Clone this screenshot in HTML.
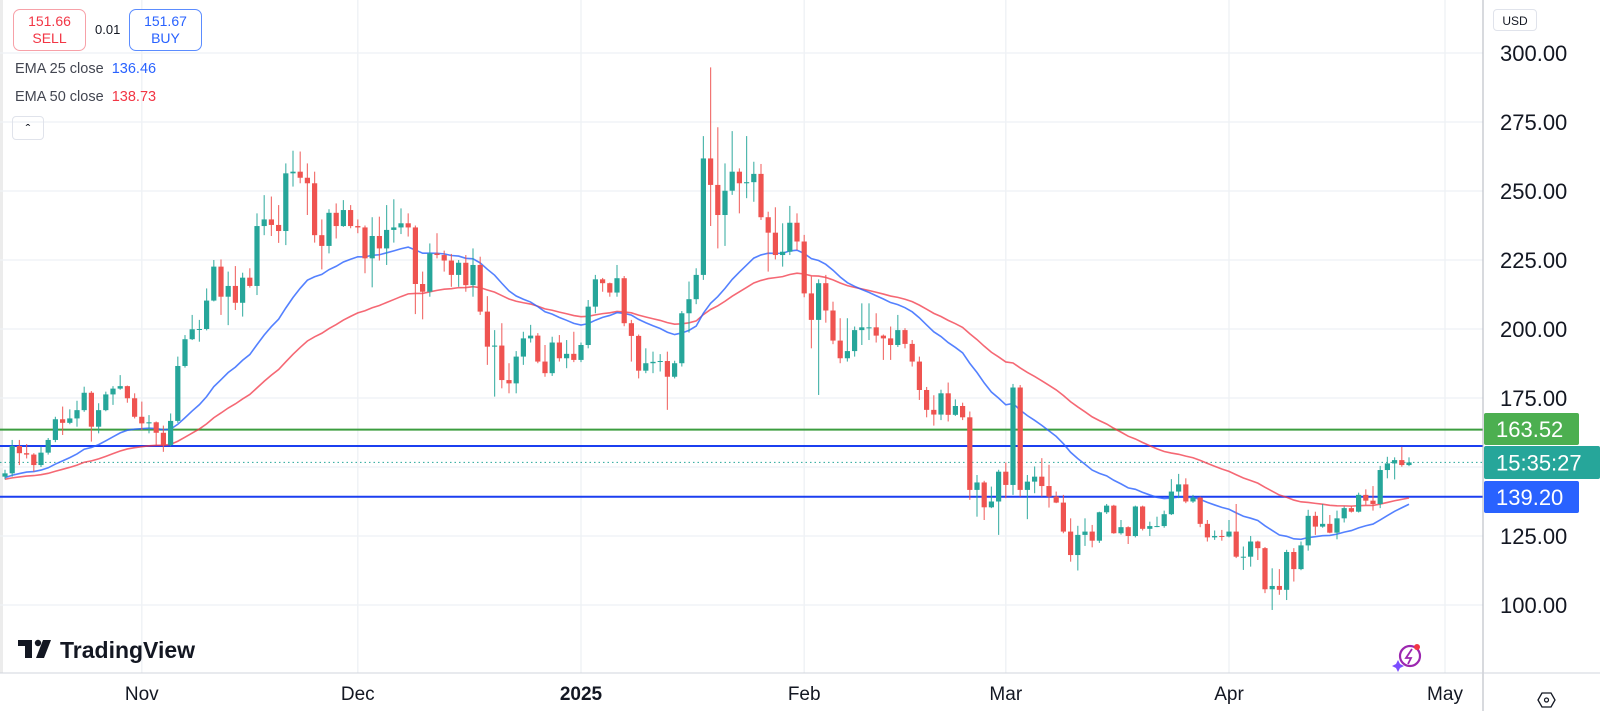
<!DOCTYPE html>
<html><head><meta charset="utf-8"><style>
html,body{margin:0;padding:0;background:#fff;}
body{width:1600px;height:711px;overflow:hidden;position:relative;font-family:"Liberation Sans",sans-serif;}
svg{position:absolute;left:0;top:0;}
.box{position:absolute;border-radius:7px;background:#fff;text-align:center;font-size:14px;line-height:17px;box-sizing:border-box;}
.leg{position:absolute;left:15px;font-size:14.5px;color:#434651;}
</style></head><body>
<svg id="chart" width="1600" height="711"></svg>

<div class="box" style="left:13px;top:9px;width:73px;height:42px;border:1px solid #f7a1a8;color:#f23645;padding-top:3px">151.66<br>SELL</div>
<div style="position:absolute;left:95px;top:22px;font-size:13px;color:#131722">0.01</div>
<div class="box" style="left:129px;top:9px;width:73px;height:42px;border:1px solid #5b8cff;color:#2962ff;padding-top:3px">151.67<br>BUY</div>
<div class="leg" style="top:61px">EMA 25 close&nbsp; <span style="color:#2962ff">136.46</span></div>
<div class="leg" style="top:89px">EMA 50 close&nbsp; <span style="color:#f23645">138.73</span></div>
<div style="position:absolute;left:12px;top:116px;width:32px;height:24px;border:1px solid #e0e3eb;border-radius:4px;box-sizing:border-box;text-align:center;font-size:14px;line-height:24px;color:#131722">&#710;</div>
<div style="position:absolute;left:1493px;top:9px;width:44px;height:22px;border:1px solid #e0e3eb;border-radius:4px;font-size:12px;line-height:22px;text-align:center;color:#131722;box-sizing:border-box">USD</div>

<script>
const closes=[147.7,157.6,155.0,154.5,150.7,155.2,159.8,167.3,166.0,167.6,170.6,176.9,164.6,170.6,176.3,178.4,179.3,174.9,168.2,165.8,166.2,162.4,158.0,166.7,186.6,196.3,199.9,200.0,210.3,222.6,211.7,215.6,209.5,218.6,215.6,237.3,239.7,237.7,235.5,256.4,257.0,254.8,252.8,234.0,230.1,242.1,237.3,243.1,237.3,236.8,225.6,233.7,229.2,235.9,236.8,238.3,236.8,216.3,213.5,227.4,226.8,224.8,219.6,224.0,215.9,223.2,206.3,193.6,194.0,181.5,180.3,190.0,196.6,197.6,188.2,184.0,195.1,189.4,191.0,188.8,194.2,208.1,218.0,216.6,213.2,218.4,202.1,197.5,184.9,187.6,188.1,188.4,182.7,187.6,205.7,210.8,219.6,261.8,252.2,241.3,250.1,257.0,252.8,253.2,256.2,240.5,234.9,226.8,228.0,238.5,231.7,212.9,203.3,216.6,206.7,195.8,189.4,192.0,199.6,200.6,200.6,197.6,196.6,194.2,199.6,194.6,188.2,177.9,170.7,169.0,176.7,168.9,172.1,168.0,141.7,144.4,135.4,137.5,148.3,143.5,178.8,141.7,144.7,146.5,143.1,139.3,137.1,126.6,118.1,125.4,126.6,123.3,133.6,136.0,126.0,128.2,125.0,135.7,127.6,128.6,128.6,132.9,141.1,143.7,137.5,138.9,129.4,124.5,125.0,124.8,126.6,117.5,117.5,123.0,120.6,105.7,106.9,105.5,119.2,113.0,121.6,132.3,128.4,129.4,126.2,131.4,135.1,133.8,139.9,137.8,136.6,148.9,151.3,152.5,150.7,151.66];
const highs=[149,159.8,159.8,158.3,155,157.4,160.5,168.2,171.9,170.9,174,179.1,177.5,173.1,177.3,179.3,183.3,179.5,176.7,173.7,168.8,166.5,165,169.4,190,197.8,205.1,203.3,214.7,225,225.2,220.8,222.8,220.4,222,241.9,248.5,248,244.9,260,264.6,264.3,260,257,239.7,243.4,245.5,246.7,244.9,239.7,237.5,240.5,240.7,244.9,247,243.7,241.9,237.5,220.8,231,234.7,228.4,227.2,225,226.8,229.2,226.2,211.9,199.6,202.1,187.6,192,199,201.5,198.5,194.2,197.2,197.8,196,199,195.1,210.5,219.6,218.5,216.8,223.2,219.2,203.3,198,193,191.8,190.9,191.8,188.5,206.5,217.2,222,269.9,294.8,273.1,260,271.7,258.2,269.9,260.6,259.8,242.5,244.1,238.3,244.6,241.9,234.1,219,218,219.6,209.9,203.9,203.9,200.9,209.3,209.3,205.7,198,200.9,205.1,200.3,196,190,179,176,178,180.6,174.5,173.3,170.1,147.1,145,142.9,149,151.6,180.1,179.7,147.1,150.2,153.2,150.8,141.1,139.9,131.4,128.7,131.4,129,133.8,136.6,136.3,130.8,128.5,136,136,130.2,132,134.2,145.6,147.5,145.9,139.9,139.3,130.8,127,127.2,130.8,136.6,121.2,125,123.3,121,113.3,113,120,120.6,123,134.5,133.8,136.6,132.6,134.2,135.7,135.9,140.7,141.9,143.1,150.4,153.7,153.5,157.3,153.5];
const lows=[145.5,146.5,150.7,153.1,148.3,150,154.5,159,161.6,165.5,164.6,170,159.2,162.2,170.2,172.5,178,173.3,167.6,163.4,162.2,158,155.5,157.5,166,186,196,195.4,199.5,210,205.1,201.4,206.9,204.5,215,212.3,234,233.7,231.2,230.4,251.6,252.8,241.3,231.3,221.6,227.4,232.8,237,236.5,234.7,220.2,215.1,224.8,223.2,231.3,234.4,233.5,205.4,203.5,211.7,225.6,220.8,215.3,215.3,213.5,211.7,205.1,187,175.5,178.5,176.7,176.7,187,195.1,187.6,182.7,183,188.2,185.8,188,188,193,205.7,213.5,211.7,211.7,201,188.2,182.1,184,184,184.6,170.7,182.1,186.4,198.7,209,217.8,237.3,229.2,230.1,248.6,241.9,247.4,246.1,239.5,220.8,225.2,222.6,226.8,228.6,211.5,193,176.1,202.3,194.5,187.6,188.2,190,194.2,196,195.1,188.8,188.8,193.5,193,186.4,174.3,168,165,167,166.5,168.5,167,138.1,132,130.8,135.1,125.4,138.7,139.9,139.3,131.1,140.5,139.3,135.3,136.9,126,115.7,112.5,121.4,120.9,122.5,133,125.8,125.5,122.1,124.5,127,125,128.2,128,132.6,138.7,136.9,137,128.2,123,123.6,123.3,124.5,117,112.7,113.9,116.3,104.3,98.2,103.7,101.8,108.5,112.6,119.7,125.4,128,126,123.8,129.9,133.5,133.5,136.3,134.2,135.1,145.9,145.5,150.1,150.3];
const firstOpen=146.5;
const ema25Seed=146.0, ema50Seed=145.5;
const priceTicks=[300,275,250,225,200,175,125,100];
const gridPrices=[300,275,250,225,200,175,150,125,100];
const monthLabels=["Nov","Dec","2025","Feb","Mar","Apr","May"];
const monthIdx=[19,49,80,111,139,170,200];
const levelGreen=163.52, levelBlueHi=157.6, levelBlueLo=139.2, lastPrice=151.66;

const NS="http://www.w3.org/2000/svg";
const svg=document.getElementById('chart');
const X0=5, DX=7.2, PR=1483, PB=673;
function xOf(i){return X0+DX*i;}
function yOf(p){return 53+(300-p)*2.76;}
function mk(tag,attrs,parent){const e=document.createElementNS(NS,tag);for(const k in attrs)e.setAttribute(k,attrs[k]);(parent||svg).appendChild(e);return e;}

// clip
const defs=mk('defs',{});
const cp=mk('clipPath',{id:'plotclip'},defs);
mk('rect',{x:0,y:0,width:PR,height:PB},cp);
mk('rect',{x:0,y:0,width:3,height:PB,fill:'#ececec'});

const grid=mk('g',{});


gridPrices.forEach(p=>{const l=mk('line',{x1:0,x2:PR,y1:yOf(p),y2:yOf(p),stroke:'#eef1f5','stroke-width':1.3},grid);

});
monthIdx.forEach(i=>{const l=mk('line',{x1:xOf(i),x2:xOf(i),y1:0,y2:PB,stroke:'#eef1f5','stroke-width':1.3},grid);

});

const plot=mk('g',{'clip-path':'url(#plotclip)'});
// horizontal levels
[[levelGreen,'#3c9d3f'],[levelBlueHi,'#1b3ff0'],[levelBlueLo,'#1b3ff0']].forEach(([p,c])=>{
 const l=mk('line',{x1:0,x2:PR,y1:yOf(p),y2:yOf(p),stroke:c,'stroke-width':2},plot);
 
 });
const dl=mk('line',{x1:0,x2:PR,y1:yOf(lastPrice),y2:yOf(lastPrice),stroke:'#26a69a','stroke-width':1,'stroke-dasharray':'1.5 3'},plot);



// EMAs
function ema(n,seed){const k=2/(n+1);let v=seed;return closes.map(c=>{v=c*k+v*(1-k);return v;});}
const e25=ema(25,ema25Seed), e50=ema(50,ema50Seed);
const p50=mk('polyline',{points:e50.map((v,i)=>xOf(i)+','+yOf(v)).join(' '),fill:'none',stroke:'#f23645','stroke-opacity':0.75,'stroke-width':1.6},plot);


const p25=mk('polyline',{points:e25.map((v,i)=>xOf(i)+','+yOf(v)).join(' '),fill:'none',stroke:'#2962ff','stroke-opacity':0.8,'stroke-width':1.6},plot);



// candles
closes.forEach((c,i)=>{
 const o=i===0?firstOpen:closes[i-1];
 const up=c>=o, col=up?'#26a69a':'#ef5350';
 const g=mk('g',{},plot);
 
 
 const x=xOf(i);
 mk('line',{x1:x,x2:x,y1:yOf(highs[i]),y2:yOf(lows[i]),stroke:col,'stroke-width':1.2,'stroke-opacity':0.8},g);
 const yt=yOf(Math.max(o,c)), yb=yOf(Math.min(o,c));
 mk('rect',{x:x-2.6,y:yt,width:5.2,height:Math.max(1,yb-yt),fill:col},g);
});

// axes
const ax=mk('line',{x1:PR,x2:PR,y1:0,y2:711,stroke:'#b2b5be','stroke-width':1});


const bx=mk('line',{x1:0,x2:1600,y1:PB,y2:PB,stroke:'#d1d4dc','stroke-width':1});


priceTicks.forEach(p=>{const t=mk('text',{x:1500,y:yOf(p)+8,'font-size':22,fill:'#131722','font-family':'Liberation Sans, sans-serif'});t.textContent=p.toFixed(2);

});
monthLabels.forEach((m,j)=>{const t=mk('text',{x:xOf(monthIdx[j]),y:700,'font-size':19,'text-anchor':'middle',fill:'#131722','font-weight':m==='2025'?'bold':'normal','font-family':'Liberation Sans, sans-serif'});t.textContent=m;

});

// price labels
function tag(y1,h,w,fill,txt,name){const g=mk('g',{});
 
 
 mk('rect',{x:1484,y:y1,width:w,height:h,fill:fill,rx:2},g);
 const t=mk('text',{x:1496,y:y1+h/2+8,'font-size':22,fill:'#fff','font-family':'Liberation Sans, sans-serif'},g);t.textContent=txt;}
tag(413,32,95,'#4caf50','163.52','green-level-label');
tag(446,33,116,'#26a69a','15:35:27','countdown-label');
tag(481,32,95,'#2962ff','139.20','blue-level-label');

// settings icon
const gs=mk('g',{});


mk('polygon',{points:'1538,700 1542,693 1551,693 1555,700 1551,707 1542,707',fill:'none',stroke:'#131722','stroke-width':1.3},gs);
mk('circle',{cx:1546.5,cy:700,r:2,fill:'none',stroke:'#131722','stroke-width':1.2},gs);

// TradingView logo
const lg=mk('g',{});


mk('rect',{x:18,y:640,width:14,height:6,fill:'#131722'},lg);
mk('rect',{x:25,y:640,width:7,height:18,fill:'#131722'},lg);
mk('circle',{cx:38,cy:643,r:3.2,fill:'#131722'},lg);
mk('polygon',{points:'43,640 51,640 44,658 36,658',fill:'#131722'},lg);
const lt=mk('text',{x:60,y:658,'font-size':23,'font-weight':'bold',fill:'#131722','font-family':'Liberation Sans, sans-serif'},lg);lt.textContent='TradingView';

// purple assistant icon
const pi=mk('g',{});


mk('circle',{cx:1410,cy:656,r:10,fill:'none',stroke:'#9c27b0','stroke-width':2.2},pi);
mk('path',{d:'M1412,649 L1406,658 L1411,658 L1408,664',fill:'none',stroke:'#9c27b0','stroke-width':1.8},pi);
mk('circle',{cx:1417,cy:647,r:3,fill:'#f23645'},pi);
mk('path',{d:'M1398,660 l2,4 4,2 -4,2 -2,4 -2,-4 -4,-2 4,-2z',fill:'#7b4dff'},pi);
</script>
</body></html>
